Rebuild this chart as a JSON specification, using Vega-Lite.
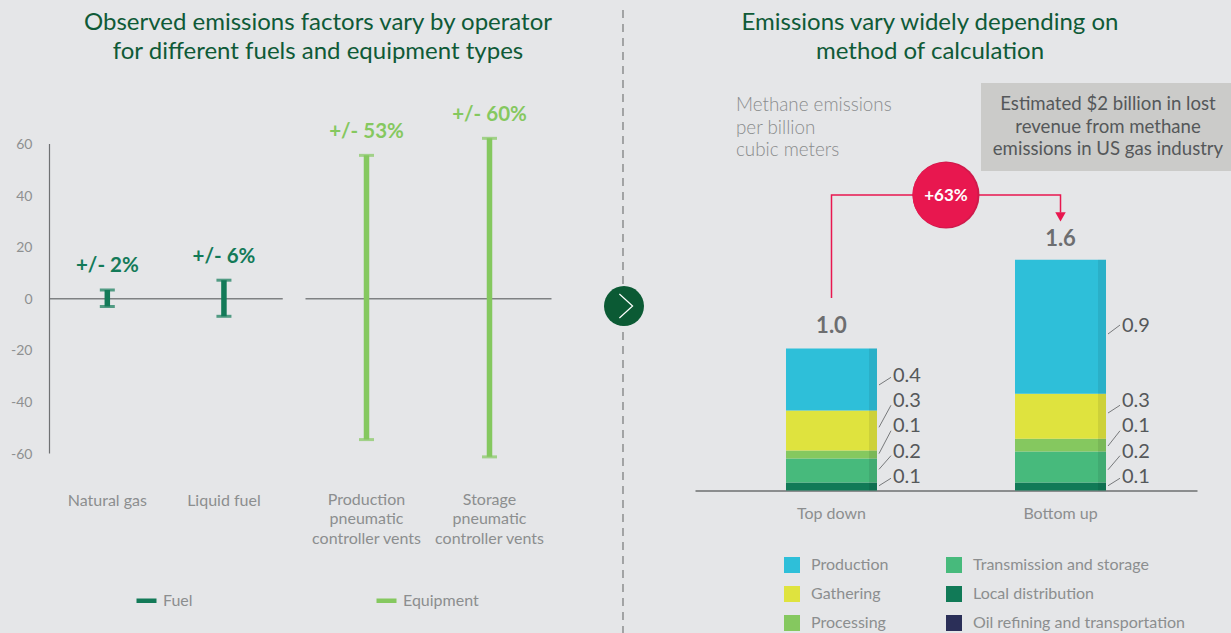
{
"$schema":"https://vega.github.io/schema/vega-lite/v6.json",
"background":"#e5e6e8","padding":0,"spacing":0,"bounds":"flush",
"resolve":{"scale":{"color":"independent"},"legend":{"color":"independent"}},
"config":{"view":{"stroke":null},"font":"Lato","axis":{"labelFont":"Lato"},"legend":{"labelFont":"Lato"},"title":{"font":"Lato"}},
"datasets":{
"fuel":[{"category":"Natural gas","type":"Fuel","high":3.2,"low":-3.2,"label":"+/- 2%"},{"category":"Liquid fuel","type":"Fuel","high":7,"low":-7,"label":"+/- 6%"}],
"equipment":[{"category":"Production pneumatic controller vents","type":"Equipment","high":55.4,"low":-54.8,"label":"+/- 53%"},{"category":"Storage pneumatic controller vents","type":"Equipment","high":62,"low":-61.5,"label":"+/- 60%"}],
"segments":[
{"method":"Top down","segment":"Local distribution","rank":1,"value":0.055,"label":"0.1","label_at":0.094,"leader_from":0.033,"leader_to":0.085},
{"method":"Top down","segment":"Transmission and storage","rank":2,"value":0.167,"label":"0.2","label_at":0.267,"leader_from":0.147,"leader_to":0.242},
{"method":"Top down","segment":"Processing","rank":3,"value":0.055,"label":"0.1","label_at":0.448,"leader_from":0.256,"leader_to":0.415},
{"method":"Top down","segment":"Gathering","rank":4,"value":0.278,"label":"0.3","label_at":0.622,"leader_from":0.439,"leader_to":0.592},
{"method":"Top down","segment":"Production","rank":5,"value":0.431,"label":"0.4","label_at":0.795,"leader_from":0.733,"leader_to":0.786},
{"method":"Bottom up","segment":"Local distribution","rank":1,"value":0.055,"label":"0.1","label_at":0.094,"leader_from":0.033,"leader_to":0.085},
{"method":"Bottom up","segment":"Transmission and storage","rank":2,"value":0.215,"label":"0.2","label_at":0.267,"leader_from":0.144,"leader_to":0.242},
{"method":"Bottom up","segment":"Processing","rank":3,"value":0.09,"label":"0.1","label_at":0.448,"leader_from":0.309,"leader_to":0.415},
{"method":"Bottom up","segment":"Gathering","rank":4,"value":0.312,"label":"0.3","label_at":0.622,"leader_from":0.538,"leader_to":0.592},
{"method":"Bottom up","segment":"Production","rank":5,"value":0.93,"label":"0.9","label_at":1.142,"leader_from":1.087,"leader_to":1.149}],
"totals":[{"method":"Top down","total":1.0,"label":"1.0"},{"method":"Bottom up","total":1.6,"label":"1.6"}],
"connector":[{"method":"Top down","level":1.337,"step":1},{"method":"Top down","level":2.052,"step":2},{"method":"Bottom up","level":2.052,"step":3},{"method":"Bottom up","level":1.93,"step":4}]
},
"hconcat":[
{"width":282,"height":633,
"title":{"text":["Observed emissions factors vary by operator","for different fuels and equipment types"],"fontSize":24,"fontWeight":400,"color":"#0f5a37","anchor":"middle","frame":"group","dx":177,"offset":-64,"lineHeight":29},
"data":{"name":"fuel"},
"encoding":{"x":{"field":"category","type":"nominal","sort":null,"scale":{"type":"band","domain":["Natural gas","Liquid fuel"],"range":[49,282.25],"padding":0},
"axis":{"title":null,"labelAngle":0,"orient":"bottom","offset":-334.75,"ticks":false,"domainColor":"#7f8183","domainWidth":1.5,"labelPadding":194,"labelColor":"#8c8e8f","labelFontSize":16,"labelFontWeight":400,"labelLineHeight":19.5,"labelBaseline":"top","grid":false}}},
"layer":[
{"mark":{"type":"rule","strokeWidth":5.5},"encoding":{
"y":{"field":"low","type":"quantitative","scale":{"domain":[-60,60],"range":[453,143.5],"nice":false,"zero":false},
"axis":{"title":null,"offset":-49,"values":[60,40,20,0,-20,-40,-60],"labelExpr":"''+datum.value","labelOffset":1,"ticks":false,"grid":false,"domain":true,"domainColor":"#6f7173","domainWidth":1.2,"labelPadding":17,"labelColor":"#8e9091","labelFontSize":14,"labelFontWeight":400}},
"y2":{"field":"high"},
"color":{"field":"type","type":"nominal","scale":{"domain":["Fuel","Equipment"],"range":["#137a58","#85c85f"]},
"legend":{"title":null,"orient":"none","legendX":134,"legendY":588,"direction":"horizontal","columns":2,"columnPadding":174,"symbolType":"stroke","symbolStrokeWidth":4.5,"symbolSize":400,"labelFontSize":16,"labelFontWeight":400,"labelColor":"#8c8e8f","labelOffset":4}}}},
{"mark":{"type":"tick","orient":"horizontal","size":15,"thickness":3,"color":"#137a58"},"encoding":{"y":{"field":"high","type":"quantitative"}}},
{"mark":{"type":"tick","orient":"horizontal","size":15,"thickness":3,"color":"#137a58"},"encoding":{"y":{"field":"low","type":"quantitative"}}},
{"mark":{"type":"text","fontSize":20.5,"fontWeight":700,"color":"#137a58","dy":-23.5,"baseline":"middle"},"encoding":{"y":{"field":"high","type":"quantitative"},"text":{"field":"label"}}}
]},
{"width":341,"height":633,
"data":{"name":"equipment"},
"encoding":{"x":{"field":"category","type":"nominal","sort":null,"scale":{"type":"band","domain":["Production pneumatic controller vents","Storage pneumatic controller vents"],"range":[23,269],"padding":0},
"axis":{"title":null,"labelAngle":0,"orient":"bottom","offset":-334.75,"ticks":false,"domainColor":"#7f8183","domainWidth":1.5,"labelPadding":193,"labelColor":"#8c8e8f","labelFontSize":16,"labelFontWeight":400,"labelLineHeight":19.5,"labelBaseline":"top","grid":false,
"labelExpr":"indexof(datum.label,'Production')==0 ? ['Production','pneumatic','controller vents'] : ['Storage','pneumatic','controller vents']"}}},
"layer":[
{"mark":{"type":"rule","strokeWidth":5.5,"color":"#85c85f"},"encoding":{
"y":{"field":"low","type":"quantitative","axis":null,"scale":{"domain":[-60,60],"range":[453,143.5],"nice":false,"zero":false}},
"y2":{"field":"high"}}},
{"mark":{"type":"tick","orient":"horizontal","size":15,"thickness":3,"color":"#85c85f"},"encoding":{"y":{"field":"high","type":"quantitative","axis":null}}},
{"mark":{"type":"tick","orient":"horizontal","size":15,"thickness":3,"color":"#85c85f"},"encoding":{"y":{"field":"low","type":"quantitative","axis":null}}},
{"mark":{"type":"text","fontSize":20.5,"fontWeight":700,"color":"#85c85f","dy":-23.5,"baseline":"middle"},"encoding":{"y":{"field":"high","type":"quantitative","axis":null},"text":{"field":"label"}}}
]},
{"width":608,"height":633,
"title":{"text":["Emissions vary widely depending on","method of calculation"],"fontSize":24,"fontWeight":400,"color":"#0f5a37","anchor":"middle","frame":"group","dx":3,"offset":-64,"lineHeight":29},
"layer":[
{"data":{"values":[{"method":"Top down"}]},"mark":{"type":"rule","strokeDash":[8,6],"strokeWidth":1.5,"color":"#8c8e8f","xOffset":-208.5},
"encoding":{"x":{"field":"method","type":"nominal","sort":null,"scale":{"type":"band","domain":["Top down","Bottom up"],"range":[72,574],"paddingInner":0,"paddingOuter":0.096},
"axis":{"title":null,"labelAngle":0,"orient":"bottom","offset":-142.5,"ticks":false,"domainColor":"#8b8d8e","domainWidth":2,"labelPadding":15,"labelColor":"#8c8e8f","labelFontSize":16,"labelFontWeight":400,"grid":false}},
"y":{"datum":3.337,"type":"quantitative","axis":null,"scale":{"domain":[0,1],"range":[490.5,346.5],"nice":false,"zero":false}},"y2":{"datum":-0.99}}},
{"data":{"values":[{"method":"Bottom up"}]},"mark":{"type":"rect","width":250,"xOffset":45.5,"color":"#cbcbc9"},
"encoding":{"x":{"field":"method","type":"nominal"},"y":{"datum":2.83,"type":"quantitative","axis":null},"y2":{"datum":2.219}}},
{"data":{"values":[{"method":"Bottom up","note":"Estimated $2 billion in lost|revenue from methane|emissions in US gas industry"}]},"mark":{"type":"text","lineBreak":"|","fontSize":18.6,"fontWeight":400,"color":"#55585a","lineHeight":22.5,"dx":47.5,"align":"center","baseline":"middle"},
"encoding":{"x":{"field":"method","type":"nominal"},"y":{"datum":2.684,"type":"quantitative","axis":null},"text":{"field":"note"}}},
{"data":{"values":[{"method":"Top down","note":"Methane emissions|per billion|cubic meters"}]},"mark":{"type":"text","lineBreak":"|","fontSize":18.8,"fontWeight":300,"color":"#8a8c8d","lineHeight":22.5,"dx":-95.5,"align":"left","baseline":"middle"},
"encoding":{"x":{"field":"method","type":"nominal"},"y":{"datum":2.677,"type":"quantitative","axis":null},"text":{"field":"note"}}},
{"data":{"name":"connector"},"mark":{"type":"line","color":"#e8174f","strokeWidth":1.5},
"encoding":{"x":{"field":"method","type":"nominal"},"y":{"field":"level","type":"quantitative","axis":null},"order":{"field":"step"}}},
{"data":{"values":[{"method":"Bottom up"}]},"mark":{"type":"point","shape":"triangle-down","filled":true,"size":110,"color":"#e8174f","opacity":1},
"encoding":{"x":{"field":"method","type":"nominal"},"y":{"datum":1.9,"type":"quantitative","axis":null}}},
{"data":{"values":[{"method":"Top down"}]},"mark":{"type":"point","shape":"circle","filled":true,"size":4489,"color":"#cf1a4b","opacity":1,"xOffset":114.5},
"encoding":{"x":{"field":"method","type":"nominal"},"y":{"datum":2.052,"type":"quantitative","axis":null}}},
{"data":{"values":[{"method":"Top down"}]},"mark":{"type":"point","shape":"circle","filled":true,"size":4225,"color":"#e8174f","opacity":1,"xOffset":113.5},
"encoding":{"x":{"field":"method","type":"nominal"},"y":{"datum":2.052,"type":"quantitative","axis":null}}},
{"data":{"values":[{"method":"Top down","note":"+63%"}]},"mark":{"type":"text","fontSize":17,"fontWeight":700,"color":"#ffffff","dx":114.5,"baseline":"middle"},
"encoding":{"x":{"field":"method","type":"nominal"},"y":{"datum":2.045,"type":"quantitative","axis":null},"text":{"field":"note"}}},
{"data":{"name":"segments"},"transform":[{"stack":"value","groupby":["method"],"sort":[{"field":"rank","order":"ascending"}],"as":["y0","y1"]}],
"layer":[
{"mark":{"type":"bar","width":91},"encoding":{"x":{"field":"method","type":"nominal"},"y":{"field":"y0","type":"quantitative","axis":null},"y2":{"field":"y1"},
"color":{"field":"segment","type":"nominal","scale":{"domain":["Production","Gathering","Processing","Transmission and storage","Local distribution","Oil refining and transportation"],"range":["#2ebfd9","#dfe33e","#85c85f","#47ba7c","#117a57","#2b2f58"]},
"legend":{"title":null,"orient":"none","legendX":161,"legendY":557,"columns":2,"columnPadding":57,"rowPadding":13,"symbolType":"square","symbolSize":256,"symbolStrokeWidth":0,"labelFontSize":16,"labelFontWeight":400,"labelColor":"#8c8e8f","labelOffset":11,"labelLimit":300}}}},
{"mark":{"type":"bar","width":8,"xOffset":41.5,"color":"#000000","opacity":0.08},"encoding":{"x":{"field":"method","type":"nominal"},"y":{"field":"y0","type":"quantitative","axis":null},"y2":{"field":"y1"}}}
]},
{"data":{"name":"segments"},"mark":{"type":"rule","color":"#77797b","strokeWidth":1,"xOffset":47.5,"x2Offset":59.5},
"encoding":{"x":{"field":"method","type":"nominal"},"x2":{"field":"method"},"y":{"field":"leader_from","type":"quantitative","axis":null},"y2":{"field":"leader_to"}}},
{"data":{"name":"segments"},"mark":{"type":"text","fontSize":20,"fontWeight":400,"color":"#55585a","align":"left","baseline":"middle","dx":61.5},
"encoding":{"x":{"field":"method","type":"nominal"},"y":{"field":"label_at","type":"quantitative","axis":null},"text":{"field":"label"}}},
{"data":{"name":"totals"},"mark":{"type":"text","fontSize":22,"fontWeight":700,"color":"#6d6e70","baseline":"middle","dy":-21},
"encoding":{"x":{"field":"method","type":"nominal"},"y":{"field":"total","type":"quantitative","axis":null},"text":{"field":"label"}}},
{"data":{"values":[{"method":"Top down"}]},"mark":{"type":"point","shape":"circle","filled":true,"size":1600,"color":"#0b5a34","opacity":1,"xOffset":-207.5},
"encoding":{"x":{"field":"method","type":"nominal"},"y":{"datum":1.281,"type":"quantitative","axis":null}}},
{"data":{"values":[{"method":"Top down"}]},"mark":{"type":"point","shape":"M-0.55,-1L0.55,0L-0.55,1","filled":false,"size":576,"color":"#ffffff","opacity":1,"strokeWidth":1.2,"xOffset":-205.5},
"encoding":{"x":{"field":"method","type":"nominal"},"y":{"datum":1.281,"type":"quantitative","axis":null}}}
]}
]
}
